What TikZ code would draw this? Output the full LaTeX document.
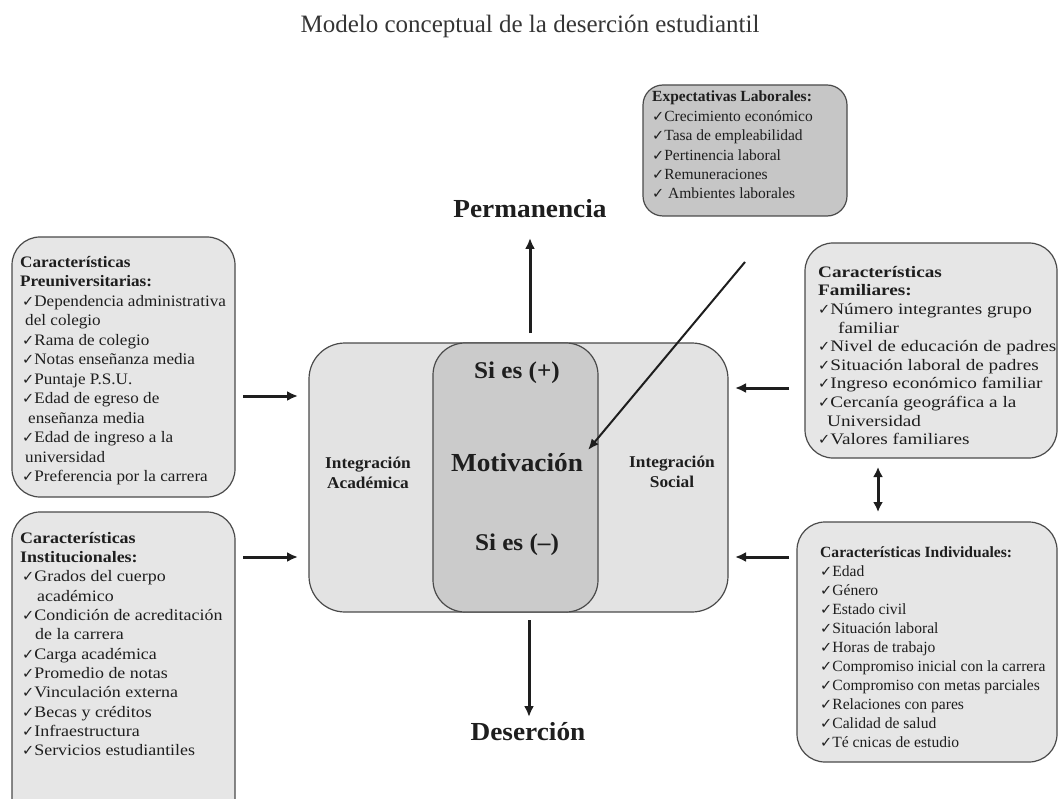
\documentclass[tikz,border=0pt]{standalone}
\usepackage{fontspec}
\setmainfont{Liberation Serif}
\newfontfamily\dejavu{DejaVu Sans}
\newfontfamily\fpre[FakeStretch=1.07]{Liberation Serif}
\newfontfamily\ffam[FakeStretch=1.2]{Liberation Serif}
\newfontfamily\finst[FakeStretch=1.12]{Liberation Serif}
\newfontfamily\fbig[FakeStretch=1.05]{Liberation Serif}
\usetikzlibrary{arrows.meta}
\newcommand\ck{{\dejavu\fontsize{14.5}{10}\selectfont\char"2713}}
\definecolor{boxfill}{HTML}{E6E6E6}
\definecolor{expfill}{HTML}{C6C6C6}
\definecolor{outerfill}{HTML}{E3E3E3}
\definecolor{innerfill}{HTML}{CBCBCB}
\definecolor{edge}{HTML}{4A4A4A}
\definecolor{ink}{HTML}{1E1E1E}
\tikzset{
  sidebox/.style={draw=edge, line width=1.2pt, fill=boxfill, rounded corners=28pt, inner sep=0pt},
  listtext/.style={anchor=north west, inner sep=0pt, align=left, text=ink},
  biglabel/.style={inner sep=0pt, text=ink, font=\fbig\bfseries\fontsize{26}{30}\selectfont},
  arr/.style={draw=ink, line width=3pt, -{Latex[length=11pt,width=10pt]}},
  thinarr/.style={draw=ink, line width=2pt, -{Latex[length=11pt,width=9pt]}},
}
\begin{document}
\begin{tikzpicture}[x=1pt,y=-1pt]
\useasboundingbox (0,0) rectangle (1059,799);
\clip (0,0) rectangle (1059,799);

% title
\node[anchor=base, inner sep=0pt, text=ink!90, font=\fontsize{25}{30}\selectfont] (title) at (530,33)
  {Modelo conceptual de la deserción estudiantil};

% boxes
\node[sidebox, minimum width=223pt, minimum height=260pt] (pre) at (123.5,367) {};
\node[sidebox, minimum width=223pt, minimum height=318pt] (inst) at (123.5,671) {};
\node[sidebox, fill=expfill, rounded corners=20pt, minimum width=204pt, minimum height=131pt] (exp) at (745,150.5) {};
\node[sidebox, minimum width=252pt, minimum height=215pt] (fam) at (931,350.5) {};
\node[sidebox, minimum width=260pt, minimum height=240pt] (ind) at (927,642) {};

% centre
\node[draw=edge, line width=1.2pt, fill=outerfill, rounded corners=36pt, inner sep=0pt,
      minimum width=419pt, minimum height=269pt] (int) at (518.5,477.5) {};
\node[draw=edge, line width=1.2pt, fill=innerfill, rounded corners=32pt, inner sep=0pt,
      minimum width=165pt, minimum height=269pt] (mot) at (515.5,477.5) {};

\node[text=ink, align=center, inner sep=0pt, font=\fbig\bfseries\fontsize{16.5}{20}\selectfont] (ia) at (368,473) {Integración\\Académica};
\node[text=ink, align=center, inner sep=0pt, font=\fbig\bfseries\fontsize{16.5}{20}\selectfont] (is) at (672,472) {Integración\\Social};
\node[biglabel, font=\fbig\bfseries\fontsize{24}{28}\selectfont] (pos) at (517,373) {Si es (+)};
\node[biglabel] (motl) at (517,463) {Motivación};
\node[biglabel, font=\fbig\bfseries\fontsize{24}{28}\selectfont] (neg) at (517,545) {Si es (–)};

\node[biglabel, anchor=base] (perm) at (530,218) {Permanencia};
\node[biglabel, anchor=base] (des) at (528,740) {Deserción};

% list texts
\node[listtext, font=\fpre\fontsize{16}{19.5}\selectfont] (pretext) at (20,256) {%
\textbf{Características}\\
\textbf{Preuniversitarias:}\\
\hspace*{2pt}\ck Dependencia administrativa\\
\hspace*{5pt}del colegio\\
\hspace*{2pt}\ck Rama de colegio\\
\hspace*{2pt}\ck Notas enseñanza media\\
\hspace*{2pt}\ck Puntaje P.S.U.\\
\hspace*{2pt}\ck Edad de egreso de\\
\hspace*{8pt}enseñanza media\\
\hspace*{2pt}\ck Edad de ingreso a la\\
\hspace*{5pt}universidad\\
\hspace*{2pt}\ck Preferencia por la carrera};

\node[listtext, font=\finst\fontsize{16}{19.3}\selectfont] (insttext) at (20,532) {%
\textbf{Características}\\
\textbf{Institucionales:}\\
\hspace*{2pt}\ck Grados del cuerpo\\
\hspace*{17pt}académico\\
\hspace*{2pt}\ck Condición de acreditación\\
\hspace*{15pt}de la carrera\\
\hspace*{2pt}\ck Carga académica\\
\hspace*{2pt}\ck Promedio de notas\\
\hspace*{2pt}\ck Vinculación externa\\
\hspace*{2pt}\ck Becas y créditos\\
\hspace*{2pt}\ck Infraestructura\\
\hspace*{2pt}\ck Servicios estudiantiles};

\node[listtext, font=\fontsize{15.5}{19.4}\selectfont] (exptext) at (652,91) {%
\textbf{Expectativas Laborales:}\\
\ck Crecimiento económico\\
\ck Tasa de empleabilidad\\
\ck Pertinencia laboral\\
\ck Remuneraciones\\
\ck\ Ambientes laborales};

\node[listtext, font=\ffam\fontsize{16}{18.6}\selectfont] (famtext) at (818,266) {%
\textbf{Características}\\
\textbf{Familiares:}\\
\ck Número integrantes grupo\\
\hspace*{20pt}familiar\\
\ck Nivel de educación de padres\\
\ck Situación laboral de padres\\
\ck Ingreso económico familiar\\
\ck Cercanía geográfica a la\\
\hspace*{9pt}Universidad\\
\ck Valores familiares};

\node[listtext, font=\fontsize{15.6}{19}\selectfont] (indtext) at (820,546) {%
\textbf{Características Individuales:}\\
\ck Edad\\
\ck Género\\
\ck Estado civil\\
\ck Situación laboral\\
\ck Horas de trabajo\\
\ck Compromiso inicial con la carrera\\
\ck Compromiso con metas parciales\\
\ck Relaciones con pares\\
\ck Calidad de salud\\
\ck Té cnicas de estudio};

% connector end points
\coordinate (l1s) at (243,396);  \coordinate (l1e) at (298,396);
\coordinate (l2s) at (243,557);  \coordinate (l2e) at (298,557);
\coordinate (r1s) at (789,388);  \coordinate (r1e) at (735,388);
\coordinate (r2s) at (789,557);  \coordinate (r2e) at (735,557);
\coordinate (ups) at (530,333);  \coordinate (upe) at (530,238);
\coordinate (dns) at (529,620);  \coordinate (dne) at (529,717);
\coordinate (dgs) at (745,262);  \coordinate (dge) at (588,450);
\coordinate (vts) at (878,467);  \coordinate (vte) at (878,512);

\draw[arr] (l1s) -- (l1e);
\draw[arr] (l2s) -- (l2e);
\draw[arr] (r1s) -- (r1e);
\draw[arr] (r2s) -- (r2e);
\draw[arr] (ups) -- (upe);
\draw[arr] (dns) -- (dne);
\draw[thinarr] (dgs) -- (dge);
\draw[arr, {Latex[length=10pt,width=10pt]}-{Latex[length=10pt,width=10pt]}] (vts) -- (vte);
\end{tikzpicture}
\end{document}
